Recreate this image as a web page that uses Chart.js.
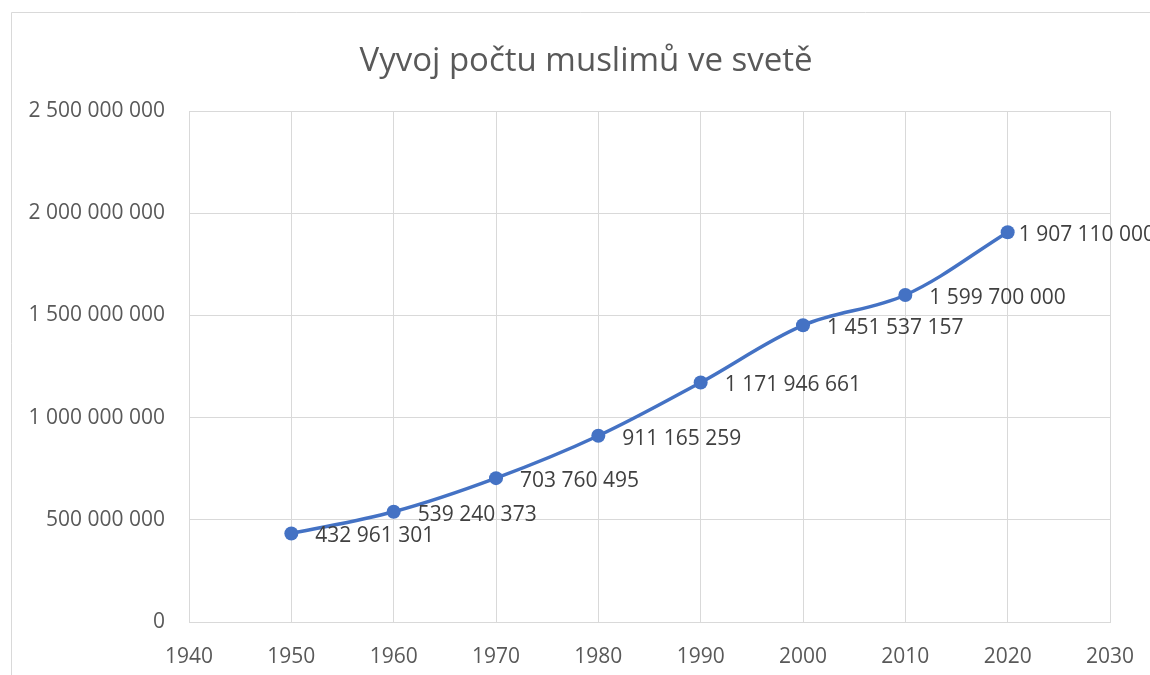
<!DOCTYPE html>
<html>
<head>
<meta charset="utf-8">
<script src="https://cdn.jsdelivr.net/npm/chart.js@4/dist/chart.umd.min.js"></script>
<style>
html,body{margin:0;padding:0;background:#fff;}
#wrap{width:1150px;height:675px;position:relative;}
</style>
</head>
<body>
<div id="wrap"><canvas id="c" width="1150" height="675"></canvas></div>
<script>
const years = [1950, 1960, 1970, 1980, 1990, 2000, 2010, 2020];
const muslims = [432961301, 539240373, 703760495, 911165259, 1171946661, 1451537157, 1599700000, 1907110000];
const xTicks = [1940, 1950, 1960, 1970, 1980, 1990, 2000, 2010, 2020, 2030];
const yTicks = [0, 500000000, 1000000000, 1500000000, 2000000000, 2500000000];
const titleText = 'Vyvoj počtu muslimů ve svetě';

const FONT = "'Open Sans', 'DejaVu Sans', sans-serif";
function fmt(v){ return String(Math.round(v)).replace(/\B(?=(\d{3})+(?!\d))/g, ' '); }

const frame = {
  id: 'frame',
  beforeDraw(chart){
    const ctx = chart.ctx;
    ctx.save();
    ctx.fillStyle = '#fff';
    ctx.fillRect(0,0,chart.width,chart.height);
    ctx.strokeStyle = '#d9d9d9';
    ctx.lineWidth = 1;
    ctx.beginPath();
    ctx.moveTo(11.5, 675);
    ctx.lineTo(11.5, 12.5);
    ctx.lineTo(1150, 12.5);
    ctx.stroke();
    ctx.font = '33px ' + FONT;
    ctx.fillStyle = '#595959';
    ctx.textAlign = 'center';
    ctx.textBaseline = 'middle';
    ctx.fillText(titleText, 586, 62);
    ctx.restore();
  }
};

const labels = {
  id: 'labels',
  afterDatasetsDraw(chart){
    const ctx = chart.ctx;
    const meta = chart.getDatasetMeta(0);
    const data = chart.data.datasets[0].data;
    ctx.save();
    ctx.font = '21px ' + FONT;
    ctx.fillStyle = '#404040';
    ctx.textAlign = 'left';
    ctx.textBaseline = 'middle';
    meta.data.forEach((pt, i) => {
      const dx = (i === meta.data.length - 1) ? 11 : 24;
      ctx.fillText(fmt(data[i].y), pt.x + dx, pt.y + 3);
    });
    ctx.restore();
  }
};

new Chart(document.getElementById('c'), {
  type: 'line',
  data: {
    datasets: [{
      data: years.map((y, i) => ({x: y, y: muslims[i]})),
      borderColor: '#4472C4',
      backgroundColor: '#4472C4',
      borderWidth: 3.5,
      pointRadius: 7,
      pointBorderWidth: 0,
      pointBackgroundColor: '#4472C4',
      tension: 0.35,
      fill: false,
      clip: false
    }]
  },
  options: {
    responsive: false,
    animation: false,
    devicePixelRatio: 1,
    layout: { padding: { left: 0, right: 40, top: 111, bottom: 0 } },
    plugins: {
      legend: { display: false },
      tooltip: { enabled: false },
      title: { display: false }
    },
    scales: {
      x: {
        type: 'linear',
        min: 1940,
        max: 2030,
        afterBuildTicks(scale){ scale.ticks = xTicks.map(v => ({value: v})); },
        afterFit(scale){ scale.height = 53; scale.paddingLeft = 0; scale.paddingRight = 0; },
        grid: { color: '#d9d9d9', lineWidth: 1, drawTicks: false },
        border: { color: '#d9d9d9' },
        ticks: {
          color: '#595959',
          font: { family: FONT, size: 21 },
          padding: 22,
          maxRotation: 0,
          callback: v => String(v)
        }
      },
      y: {
        min: 0,
        max: 2500000000,
        afterBuildTicks(scale){ scale.ticks = yTicks.map(v => ({value: v})); },
        afterFit(scale){ scale.width = 189; scale.paddingTop = 0; scale.paddingBottom = 0; },
        grid: { color: '#d9d9d9', lineWidth: 1, drawTicks: false },
        border: { color: '#d9d9d9' },
        ticks: {
          color: '#595959',
          font: { family: FONT, size: 21 },
          padding: 24,
          callback: v => fmt(v)
        }
      }
    }
  },
  plugins: [frame, labels]
});
</script>
</body>
</html>
